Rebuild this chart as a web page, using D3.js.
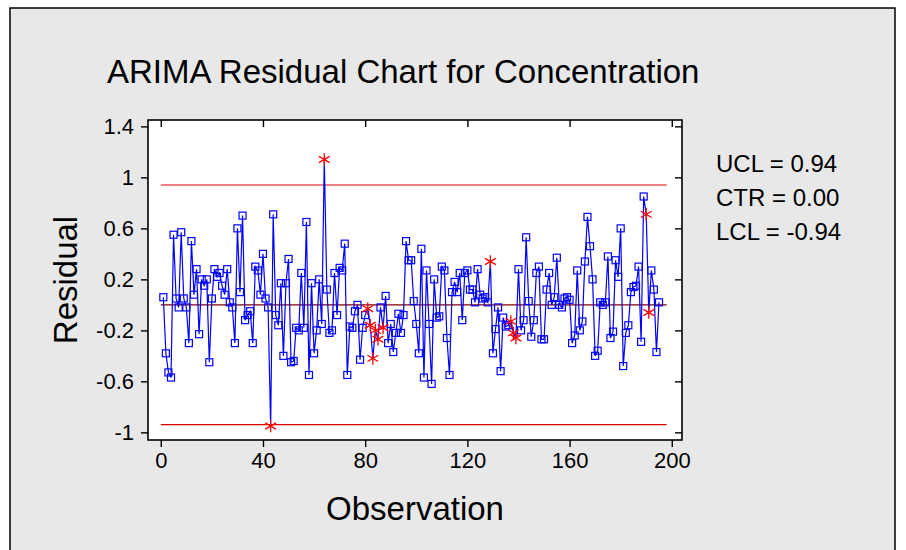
<!DOCTYPE html>
<html><head><meta charset="utf-8">
<script src="https://cdn.jsdelivr.net/npm/d3@7"></script>
<style>body{margin:0;background:#fff;} text{font-family:Arial,"Liberation Sans",sans-serif;}</style>
</head><body>
<div id="chart"></div>
<script>
// residuals, observation 1..n
const residuals = [0.06,-0.38,-0.53,-0.57,0.55,0.05,-0.02,0.57,0.05,-0.02,
 -0.3,0.5,0.08,0.28,-0.23,0.2,0.15,0.2,-0.45,0.05,
 0.28,0.22,0.25,0.15,0.08,0.28,0.02,-0.02,-0.3,0.6,
 0.1,0.7,-0.12,-0.08,-0.05,-0.3,0.3,0.27,0.08,0.4,
 0.05,-0.02,-0.95,0.71,-0.08,-0.16,0.17,-0.4,0.17,0.36,
 -0.45,-0.44,-0.18,-0.2,0.25,-0.18,0.65,-0.55,0.17,-0.38,
 -0.2,0.2,-0.15,1.14,0.12,-0.22,-0.2,0.25,-0.08,0.29,
 0.27,0.48,-0.55,-0.17,-0.18,-0.05,0.0,-0.43,-0.18,-0.08,
 -0.03,-0.16,-0.42,-0.2,-0.27,-0.02,-0.18,0.07,-0.3,-0.15,
 -0.37,-0.22,-0.07,-0.22,-0.08,0.5,0.35,0.35,0.03,-0.15,
 -0.38,0.44,-0.57,0.27,-0.15,-0.62,0.2,-0.1,-0.09,0.3,
 0.27,-0.26,-0.55,0.1,0.18,0.1,0.25,-0.12,0.25,0.27,
 0.12,0.12,0.02,0.28,0.08,0.05,0.06,0.02,0.34,-0.38,
 -0.19,-0.02,-0.52,-0.1,-0.17,-0.16,-0.13,-0.22,-0.26,0.28,
 -0.2,-0.12,0.53,0.03,-0.25,-0.12,0.25,0.3,-0.27,-0.27,
 0.12,0.25,0.0,0.06,0.37,0.0,-0.02,0.05,0.06,0.04,
 -0.3,-0.24,0.27,-0.2,-0.13,0.34,0.69,0.46,0.2,-0.4,
 -0.36,0.02,0.0,0.02,0.38,-0.26,-0.21,0.35,0.22,0.6,
 -0.48,-0.22,-0.16,0.1,0.14,0.15,0.3,-0.29,0.85,0.71,
 -0.06,0.27,0.12,-0.37,0.02];
// observations flagged (drawn as red stars)
const flagged = [43,64,81,82,83,84,85,87,129,137,138,139,190,191];
const limits = {UCL:0.94, CTR:0.0, LCL:-0.94};
const xTicks = [0,40,80,120,160,200];
const yTicks = [-1,-0.6,-0.2,0.2,0.6,1,1.4];

const W=906,H=550;
const svg=d3.select("#chart").append("svg").attr("width",W).attr("height",H);
svg.append("rect").attr("width",W).attr("height",H).attr("fill","#fff");
svg.append("rect").attr("x",10).attr("y",8).attr("width",885).attr("height",560)
  .attr("fill","#e8e8e8").attr("stroke","#000").attr("stroke-width",1.5);

const L=148,T=120,R=682,B=440;
svg.append("rect").attr("x",L).attr("y",T).attr("width",R-L).attr("height",B-T)
  .attr("fill","#fff").attr("stroke","#000").attr("stroke-width",1.6);

const x=d3.scaleLinear().domain([-5,204]).range([L,R]);
const y=d3.scaleLinear().domain([-1.06,1.45]).range([B,T]);

const tickFmt=d=>d3.format("~g")(d).replace("−","-");
function axisStyle(g){g.select(".domain").remove();g.selectAll("text").attr("font-size",22).attr("fill","#000");g.selectAll("line").attr("stroke","#000").attr("stroke-width",1.4);}
svg.append("g").attr("transform",`translate(0,${B})`)
  .call(d3.axisBottom(x).tickValues(xTicks).tickSize(7).tickPadding(5).tickFormat(tickFmt)).call(axisStyle);
svg.append("g").attr("transform",`translate(0,${T})`)
  .call(d3.axisTop(x).tickValues(xTicks).tickSize(-7).tickFormat("")).call(axisStyle);
svg.append("g").attr("transform",`translate(${L},0)`)
  .call(d3.axisLeft(y).tickValues(yTicks).tickSize(7).tickPadding(7).tickFormat(tickFmt)).call(axisStyle);
svg.append("g").attr("transform",`translate(${R},0)`)
  .call(d3.axisRight(y).tickValues(yTicks).tickSize(-7).tickFormat("")).call(axisStyle);

// limit lines
[["UCL","#e00000"],["LCL","#e00000"],["CTR","#800000"]].forEach(([k,c])=>{
  svg.append("line").attr("x1",x(0)).attr("x2",x(198)).attr("y1",y(limits[k])).attr("y2",y(limits[k]))
    .attr("stroke",c).attr("stroke-width",1.2);
});

const data=residuals.map((v,i)=>({obs:i+1,v,flag:flagged.includes(i+1)}));
svg.append("path").datum(data).attr("fill","none").attr("stroke","#0000ff").attr("stroke-width",1.2)
  .attr("d",d3.line().x(d=>x(d.obs)).y(d=>y(d.v)));
svg.selectAll(".sq").data(data.filter(d=>!d.flag)).enter().append("rect")
  .attr("x",d=>x(d.obs)-3.5).attr("y",d=>y(d.v)-3.5).attr("width",7).attr("height",7)
  .attr("fill","none").attr("stroke","#0000ff").attr("stroke-width",1.2);
const star=d3.symbol().type(d3.symbolAsterisk).size(110);
svg.selectAll(".st").data(data.filter(d=>d.flag)).enter().append("path")
  .attr("transform",d=>`translate(${x(d.obs)},${y(d.v)})`).attr("d",star)
  .attr("fill","none").attr("stroke","#ff0000").attr("stroke-width",1.3);

svg.append("text").attr("x",107).attr("y",83).attr("font-size",33).text("ARIMA Residual Chart for Concentration");
svg.append("text").attr("transform",`translate(77,${(T+B)/2}) rotate(-90)`).attr("text-anchor","middle")
  .attr("font-size",33).text("Residual");
svg.append("text").attr("x",(L+R)/2).attr("y",520).attr("text-anchor","middle").attr("font-size",33).text("Observation");
const fmt=d=>d3.format(".2f")(d).replace("−","-");
["UCL","CTR","LCL"].forEach((k,i)=>{
  svg.append("text").attr("x",716).attr("y",172+i*34).attr("font-size",24).text(`${k} = ${fmt(limits[k])}`);
});
</script>
</body></html>
